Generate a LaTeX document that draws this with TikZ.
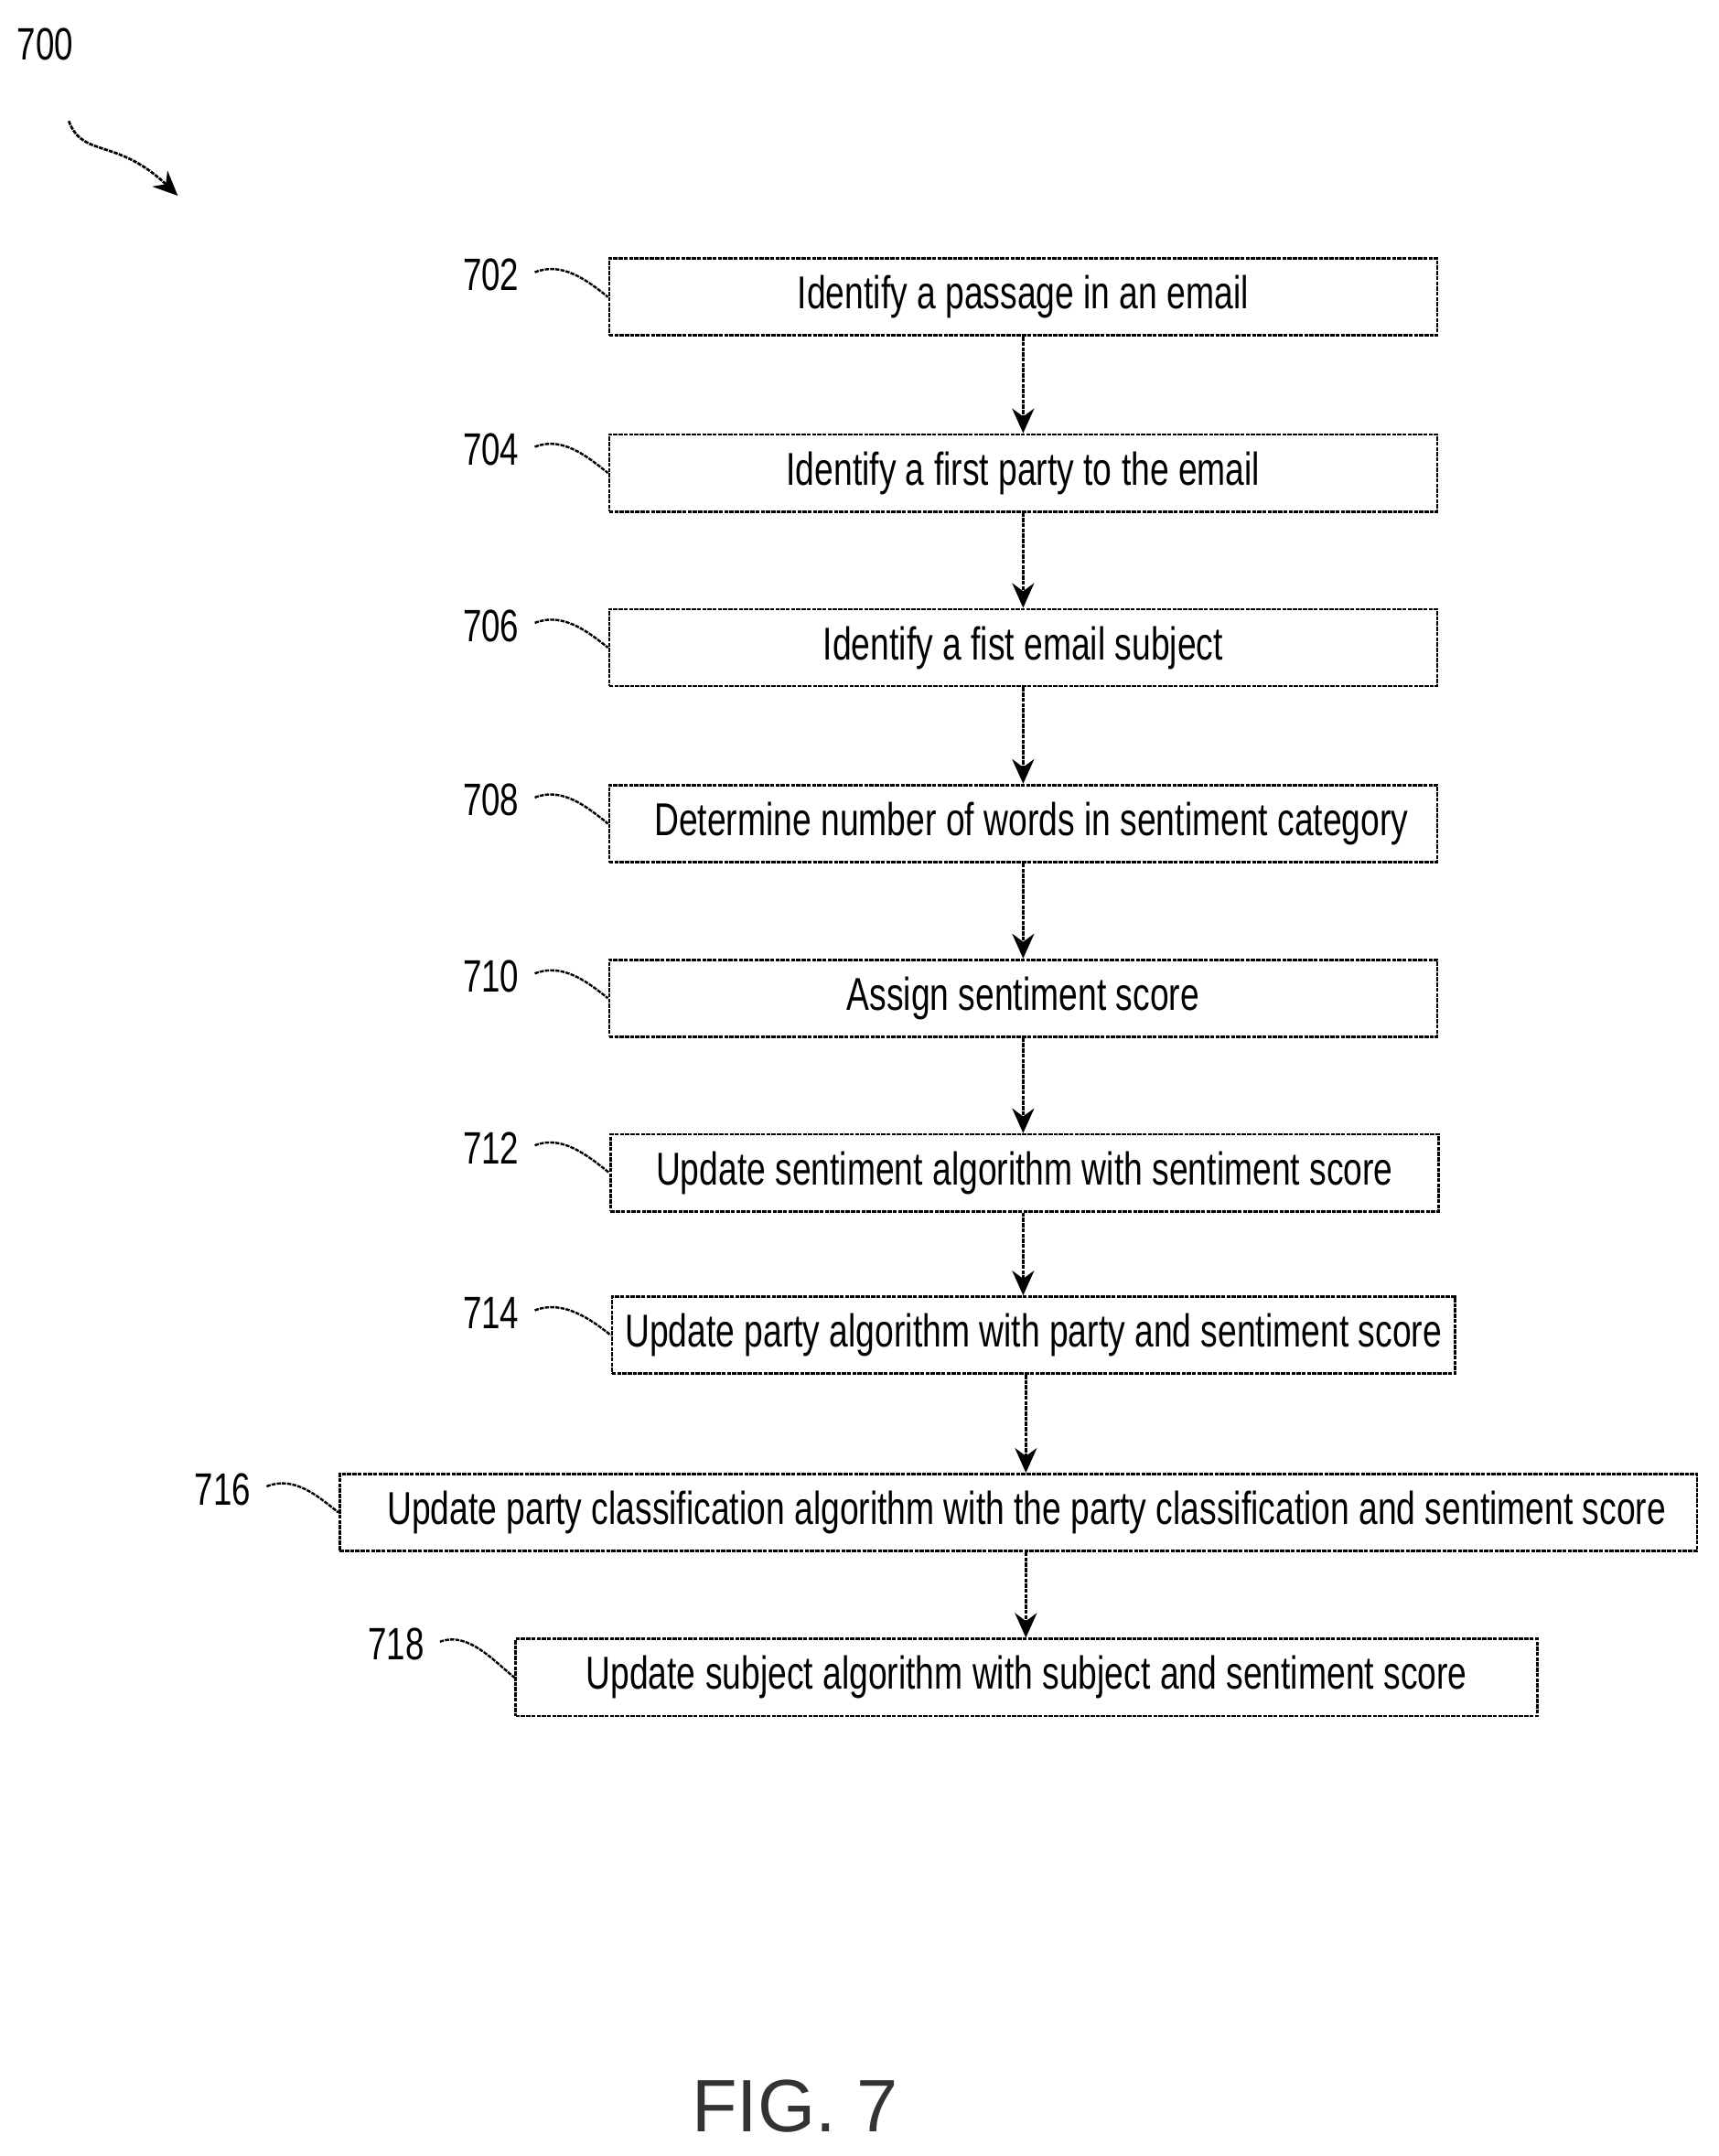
\documentclass[tikz,border=0pt]{standalone}
\usepackage{fontspec}
\setmainfont{Liberation Sans}
\newfontfamily\nfont[FakeStretch=0.74]{Liberation Sans}
\usetikzlibrary{arrows.meta}
\begin{document}
\begin{tikzpicture}[x=1pt,y=-1pt,
 box/.style={draw,line width=1.8pt,dash pattern=on 3pt off 0.8pt,minimum height=56pt,inner sep=0pt,font=\nfont\fontsize{33.5}{38}\selectfont},
 lab/.style={font=\nfont\fontsize{33}{38}\selectfont},
 arr/.style={line width=1.8pt,dash pattern=on 3pt off 0.8pt,-{Stealth[length=18pt,width=16pt]}},
 lead/.style={line width=1.6pt,dash pattern=on 3pt off 0.8pt}]
\useasboundingbox (0,0) rectangle (1250,1568);
\def\bx#1#2#3#4#5{\node[box,minimum width=#3-#2] (#1) at ({(#2+#3)/2},#4) {#5};}
\bx{b702}{443}{1045}{216}{Identify a passage in an email}
\bx{b704}{443}{1045}{344}{Identify a first party to the email}
\bx{b706}{443}{1045}{471}{Identify a fist email subject}
\bx{b708}{443}{1045}{599}{\hspace*{12pt}Determine number of words in sentiment category}
\bx{b710}{443}{1045}{726}{Assign sentiment score}
\bx{b712}{444}{1046}{853}{Update sentiment algorithm with sentiment score}
\bx{b714}{445}{1058}{971}{Update party algorithm with party and sentiment score}
\bx{b716}{247}{1234}{1100}{\hspace*{12pt}Update party classification algorithm with the party classification and sentiment score}
\bx{b718}{375}{1118}{1220}{Update subject algorithm with subject and sentiment score}
\foreach \a/\b in {b702/b704,b704/b706,b706/b708,b708/b710,b710/b712,b712/b714}
  \draw[arr] (\a.south -| 744,0) -- (\b.north -| 744,0);
\draw[arr] (b714.south -| 746,0) -- (b716.north -| 746,0);
\draw[arr] (b716.south -| 746,0) -- (b718.north -| 746,0);
\foreach \n/\y/\xl/\b in {702/200/357/b702,704/327/357/b704,706/455/357/b706,708/582/357/b708,710/710/357/b710,712/835/357/b712,714/955/357/b714,716/1083/162/b716,718/1196/288/b718}{
  \node[lab] (l\n) at (\xl,\y) {\n};
  \draw[lead] (l\n.east) ++(8,-2) coordinate (s\n) .. controls +(20,-8) and +(-15,-12) .. (\b.west);
}
\node[lab] (l700) at (33,32) {700};
\coordinate (a700) at (50,88);
\node[inner sep=0pt] (t700) at (130,143) {};
\draw[arr] (a700) .. controls (60,115) and (85,100) .. (t700);
\node[font=\fontsize{54}{60}\selectfont,text=black!80] (fig) at (578,1532) {FIG. 7};
\end{tikzpicture}
\end{document}
